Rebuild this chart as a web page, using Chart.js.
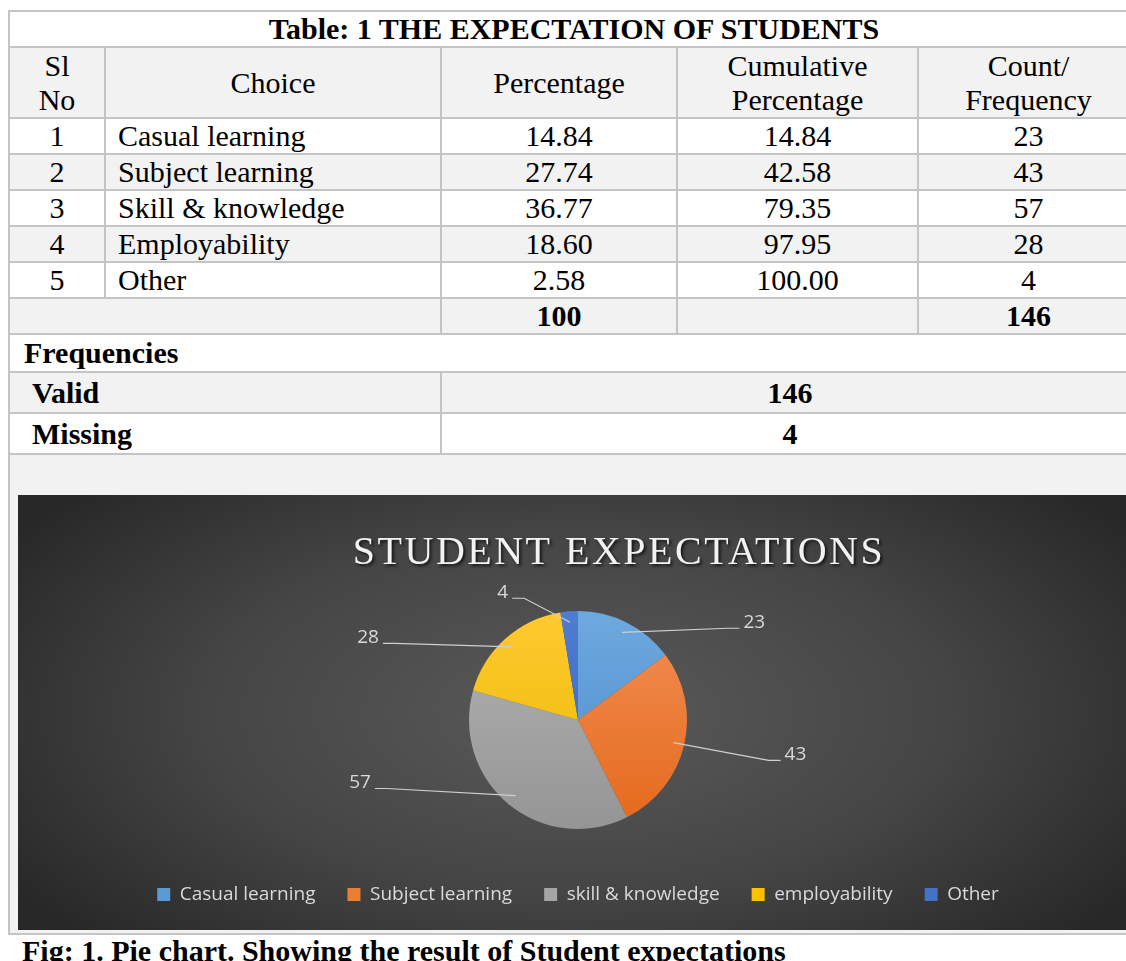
<!DOCTYPE html>
<html>
<head>
<meta charset="utf-8">
<script src="https://cdn.jsdelivr.net/npm/chart.js@4"></script>
<style>
  html, body { margin: 0; padding: 0; background: #fff; overflow: hidden; width: 1126px; height: 961px; }
  .sheet { position: absolute; left: 8px; top: 10px; width: 1132px; }
  table { border-collapse: collapse; table-layout: fixed; width: 1132px; font-family: "Liberation Serif", "Times New Roman", serif; font-size: 30px; color: #000; }
  td { border: 2px solid #c4c4c4; padding: 0; line-height: 34px; white-space: nowrap; overflow: hidden; }
  .c { text-align: center; }
  .l { padding-left: 12px; }
  .b { font-weight: bold; }
  .g { background: #f2f2f2; }
  .chart-cell { height: 478px; position: relative; background: #f2f2f2; }
  .chart-box { position: absolute; left: 8px; top: 40px; width: 1120px; height: 435px;
    background: radial-gradient(ellipse 60% 75% at 50% 50%, #5a5a5a 0%, #454545 55%, #282828 100%); }
  .caption { position: absolute; left: 22px; top: 934px; font-family: "Liberation Serif", serif; font-weight: bold; font-size: 30px; line-height: 34px; }
</style>
</head>
<body>
<div class="sheet">
<table>
  <colgroup><col style="width:96px"><col style="width:336px"><col style="width:236px"><col style="width:241px"><col></colgroup>
  <tr style="height:36px"><td colspan="5" class="c b">Table: 1 THE EXPECTATION OF STUDENTS</td></tr>
  <tr class="g" style="height:71px">
    <td class="c">Sl<br>No</td><td class="c">Choice</td><td class="c">Percentage</td>
    <td class="c">Cumulative<br>Percentage</td><td class="c">Count/<br>Frequency</td>
  </tr>
  <tbody id="rows"></tbody>
  <tr class="g" style="height:36px"><td colspan="2"></td><td class="c b" id="totPct"></td><td></td><td class="c b" id="totCnt"></td></tr>
  <tr style="height:38px"><td colspan="5" class="b" style="padding-left:14px">Frequencies</td></tr>
  <tr class="g" style="height:41px"><td colspan="2" class="b" style="padding-left:22px">Valid</td><td colspan="3" class="c b" id="valid"></td></tr>
  <tr style="height:41px"><td colspan="2" class="b" style="padding-left:22px">Missing</td><td colspan="3" class="c b" id="missing"></td></tr>
  <tr><td colspan="5" class="chart-cell">
    <div class="chart-box"><canvas id="pieChart" width="1120" height="435"></canvas></div>
  </td></tr>
</table>
</div>
<div class="caption">Fig: 1. Pie chart. Showing the result of Student expectations</div>

<script>
const CHOICES = ['Casual learning', 'Subject learning', 'Skill & knowledge', 'Employability', 'Other'];
const PERCENTAGES = ['14.84', '27.74', '36.77', '18.60', '2.58'];
const CUMULATIVE = ['14.84', '42.58', '79.35', '97.95', '100.00'];
const COUNTS = [23, 43, 57, 28, 4];
const TOTAL_PERCENT = '100';
const TOTAL_COUNT = 146;
const VALID = 146;
const MISSING = 4;

const PIE_LABELS = ['Casual learning', 'Subject learning', 'skill & knowledge', 'employability', 'Other'];
const PIE_VALUES = [23, 43, 57, 28, 4];

// slice colours: top / bottom of the gradient
const SLICE_COLORS = [
  ['#6ea9de', '#4a8bcd'],
  ['#f28f55', '#e4691b'],
  ['#b3b3b3', '#959595'],
  ['#ffca30', '#e9b800'],
  ['#4f7dd0', '#3a63bb'],
];
const LEGEND_COLORS = ['#5b9bd5', '#ed7d31', '#a5a5a5', '#ffc000', '#4472c4'];

// where each value label sits: [angle clockwise from top in degrees, distance in radii]
const LABEL_PLACES = [[61, 1.85], [99, 2.02], [254, 2.08], [291.5, 2.07], [329.5, 1.36]];

const ROWS = document.getElementById('rows');

CHOICES.forEach((choice, i) => {
  const tr = document.createElement('tr');
  tr.style.height = '36px';
  if (i % 2 === 1) {
    tr.className = 'g';
  }
  tr.innerHTML =
    `<td class="c">${i + 1}</td><td class="l">${choice}</td>` +
    `<td class="c">${PERCENTAGES[i]}</td><td class="c">${CUMULATIVE[i]}</td><td class="c">${COUNTS[i]}</td>`;
  ROWS.appendChild(tr);
});

document.getElementById('totPct').textContent = TOTAL_PERCENT;
document.getElementById('totCnt').textContent = TOTAL_COUNT;
document.getElementById('valid').textContent = VALID;
document.getElementById('missing').textContent = MISSING;

function sliceGradient(context) {
  const chart = context.chart;
  const area = chart.chartArea;
  const colors = SLICE_COLORS[context.dataIndex % SLICE_COLORS.length];
  if (!area) {
    return colors[0];
  }
  const cy = (area.top + area.bottom) / 2;
  const r = 109;
  const grad = chart.ctx.createLinearGradient(0, cy - r, 0, cy + r);
  grad.addColorStop(0, colors[0]);
  grad.addColorStop(1, colors[1]);
  return grad;
}

const leaderLabels = {
  id: 'leaderLabels',
  afterDatasetsDraw(chart) {
    const ctx = chart.ctx;
    const meta = chart.getDatasetMeta(0);
    ctx.save();
    ctx.font = '19px "Open Sans", sans-serif';
    ctx.fillStyle = '#d9d9d9';
    ctx.strokeStyle = '#cfcfcf';
    ctx.lineWidth = 1.2;
    ctx.textAlign = 'center';
    ctx.textBaseline = 'middle';
    meta.data.forEach((arc, i) => {
      const { x, y, startAngle, endAngle, outerRadius } = arc.getProps(['x', 'y', 'startAngle', 'endAngle', 'outerRadius'], true);
      const mid = (startAngle + endAngle) / 2;
      const sx = x + Math.cos(mid) * outerRadius * 0.9;
      const sy = y + Math.sin(mid) * outerRadius * 0.9;
      const place = LABEL_PLACES[i];
      const a = (place[0] - 90) * Math.PI / 180;
      const lx = x + Math.cos(a) * outerRadius * place[1];
      const ly = y + Math.sin(a) * outerRadius * place[1];
      const text = String(PIE_VALUES[i]);
      const w = ctx.measureText(text).width;
      const onLeft = lx < sx;
      const edge = onLeft ? lx + w / 2 + 4 : lx - w / 2 - 4;
      const stub = onLeft ? edge + 12 : edge - 12;
      ctx.beginPath();
      ctx.moveTo(sx, sy);
      ctx.lineTo(stub, ly + 6);
      ctx.lineTo(edge, ly + 6);
      ctx.stroke();
      ctx.fillText(text, lx, ly);
    });
    ctx.restore();
  },
};

const pieChart = new Chart(document.getElementById('pieChart').getContext('2d'), {
  type: 'pie',
  data: {
    labels: PIE_LABELS,
    datasets: [
      {
        data: PIE_VALUES,
        backgroundColor: sliceGradient,
        borderWidth: 0,
        radius: 109,
      },
    ],
  },
  options: {
    responsive: false,
    animation: false,
    layout: { padding: { top: 0, bottom: 16 } },
    plugins: {
      title: {
        display: true,
        text: 'STUDENT EXPECTATIONS',
        color: '#f2f2f2',
        font: { family: '"Liberation Serif", serif', size: 40, weight: 'normal' },
        padding: { top: 34, bottom: 10 },
      },
      legend: {
        position: 'bottom',
        labels: {
          color: '#d9d9d9',
          font: { family: '"Open Sans", sans-serif', size: 19 },
          boxWidth: 13,
          boxHeight: 13,
          padding: 32,
          generateLabels(chart) {
            return PIE_LABELS.map((label, i) => ({
              text: label,
              fillStyle: LEGEND_COLORS[i],
              strokeStyle: LEGEND_COLORS[i],
              lineWidth: 0,
              fontColor: '#d9d9d9',
              index: i,
            }));
          },
        },
      },
      tooltip: { enabled: false },
    },
  },
  plugins: [leaderLabels],
});

// the title in the reference is letter-spaced, shadowed and sits a little right of centre
const titleBox = pieChart.titleBlock;
const drawTitle = titleBox.draw.bind(titleBox);
titleBox.draw = function () {
  const ctx = pieChart.ctx;
  ctx.save();
  ctx.letterSpacing = '2.5px';
  ctx.shadowColor = 'rgba(0, 0, 0, 0.7)';
  ctx.shadowBlur = 3;
  ctx.shadowOffsetX = 2;
  ctx.shadowOffsetY = 2;
  ctx.translate(41, 0);
  drawTitle();
  ctx.restore();
};
pieChart.update();
</script>
</body>
</html>
